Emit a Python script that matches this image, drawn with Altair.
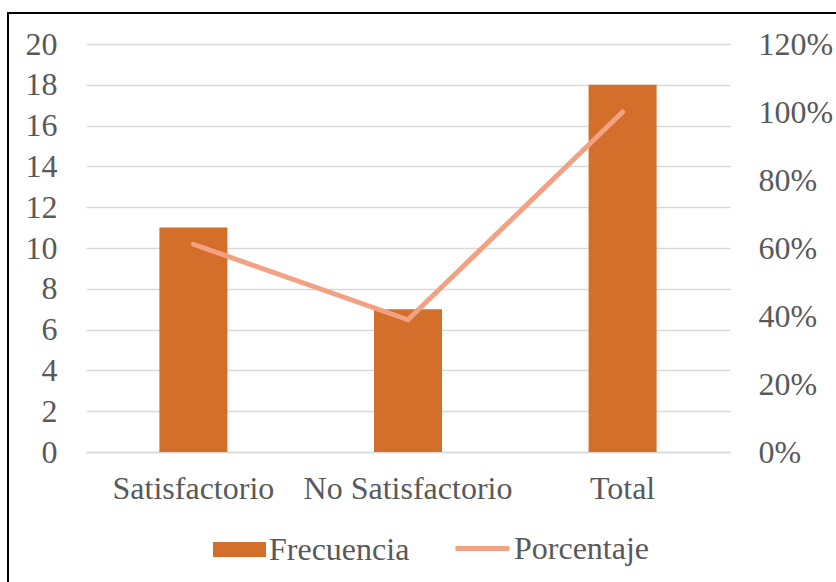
import altair as alt
import pandas as pd

categorias = ["Satisfactorio", "No Satisfactorio", "Total"]
frecuencia = [11, 7, 18]
porcentaje = [0.611, 0.389, 1.0]
ticks_izq = [0, 2, 4, 6, 8, 10, 12, 14, 16, 18, 20]
ticks_der = [0, 0.2, 0.4, 0.6, 0.8, 1.0, 1.2]

df = pd.DataFrame({
    "categoria": categorias,
    "frecuencia": frecuencia,
    "porcentaje": porcentaje,
    "s1": ["Frecuencia"] * 3,
    "s2": ["Porcentaje"] * 3,
})

FONT = "Times New Roman, Liberation Serif, serif"
FS = 32
TXT = "#595959"
W, H = 644, 408

xscale = alt.Scale(paddingInner=0.683, paddingOuter=0.342)
xaxis = alt.Axis(labelAngle=0, labelPadding=21, ticks=False, grid=False, domain=True,
                 domainColor="#D9D9D9", domainWidth=1.5, labelLimit=0,
                 labelFont=FONT, labelFontSize=FS, labelColor=TXT)

bars = alt.Chart(df).mark_bar(color="#D46E2B").encode(
    x=alt.X("categoria:N", sort=categorias, title=None, scale=xscale, axis=xaxis),
    y=alt.Y("frecuencia:Q", title=None,
            scale=alt.Scale(domain=[0, 20], nice=False),
            axis=alt.Axis(values=ticks_izq, ticks=False, domain=False,
                          labelPadding=29, gridColor="#D9D9D9", gridWidth=1.5,
                          labelFont=FONT, labelFontSize=FS, labelColor=TXT)),
    color=alt.Color("s1:N", title=None,
                    scale=alt.Scale(domain=["Frecuencia"], range=["#D46E2B"]),
                    legend=alt.Legend(orient="none", legendX=127, legendY=479,
                                      symbolType="M-1,-0.28L1,-0.28L1,0.28L-1,0.28Z",
                                      symbolSize=2809, symbolOpacity=1,
                                      symbolStrokeWidth=0, labelLimit=0,
                                      labelFont=FONT, labelFontSize=FS,
                                      labelColor=TXT, labelOffset=3, padding=0)),
)

line = alt.Chart(df).mark_line(strokeWidth=5, strokeCap="round", strokeJoin="miter").encode(
    x=alt.X("categoria:N", sort=categorias, title=None, scale=xscale, axis=xaxis),
    y=alt.Y("porcentaje:Q", title=None,
            scale=alt.Scale(domain=[0, 1.2], nice=False),
            axis=alt.Axis(values=ticks_der, format=".0%", orient="right",
                          ticks=False, domain=False, grid=False,
                          labelPadding=28,
                          labelFont=FONT, labelFontSize=FS, labelColor=TXT)),
    stroke=alt.Stroke("s2:N", title=None,
                      scale=alt.Scale(domain=["Porcentaje"], range=["#F2A283"]),
                      legend=alt.Legend(orient="none", legendX=367, legendY=475,
                                        symbolType="stroke", symbolSize=2916,
                                        symbolStrokeWidth=5, labelLimit=0,
                                        labelFont=FONT, labelFontSize=FS,
                                        labelColor=TXT, labelOffset=2, padding=0)),
)

border = alt.Chart(pd.DataFrame({"b": [1]})).mark_rect(
    fill="transparent", stroke="#000000", strokeWidth=2
).encode(
    x=alt.value(-78), x2=alt.value(W + 140),
    y=alt.value(-31), y2=alt.value(H + 200),
)

chart = alt.layer(bars, line, border).resolve_scale(
    y="independent", color="independent"
).properties(
    width=W, height=H,
    autosize=alt.AutoSizeParams(type="none"),
    padding={"left": 86, "top": 44, "right": 106, "bottom": 130},
).configure(
    background="white",
    style={"cell": {"stroke": "transparent", "strokeWidth": 0}},
).configure_view(stroke="transparent", strokeWidth=0).configure_axisY(domain=False)

chart.save("out.html", embed_options={"renderer": "svg", "actions": False})
